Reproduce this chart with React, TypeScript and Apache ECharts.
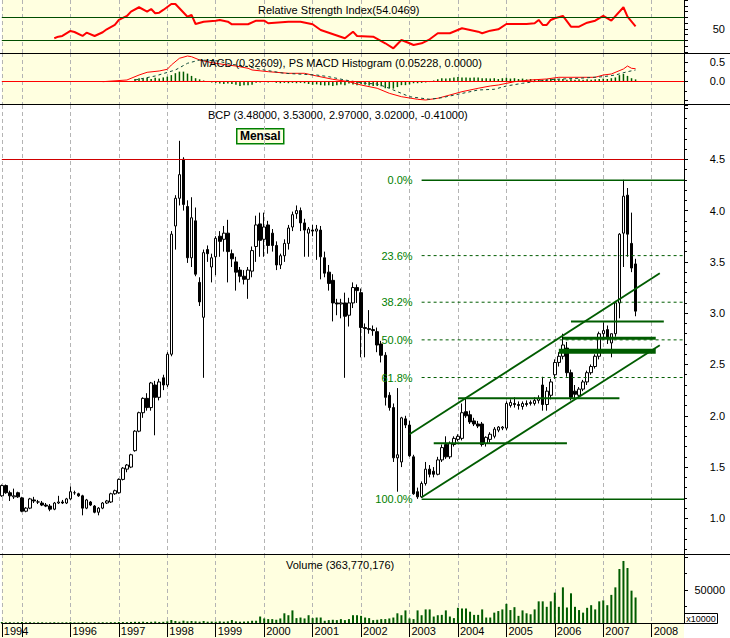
import React, { useEffect, useRef } from "react";
import * as echarts from "echarts";

// ---------- categories: monthly, Aug 1994 .. Sep 2008 ----------
const months: string[] = [];
for (let k = 0; k < 170; k++) {
  const t = 1994 * 12 + 7 + k;
  const y = Math.floor(t / 12);
  const m = (t % 12) + 1;
  months.push(`${y}-${String(m).padStart(2, "0")}`);
}

// ---------- BCP monthly candles [open, high, low, close] ----------
const ohlc: number[][] = [
  // 1994 Aug-Dec
  [1.22, 1.33, 1.21, 1.32], [1.32, 1.33, 1.24, 1.25], [1.25, 1.27, 1.17, 1.22], [1.21, 1.29, 1.19, 1.22], [1.25, 1.26, 1.2, 1.21],
  // 1995
  [1.2, 1.21, 1.06, 1.07], [1.07, 1.11, 1.06, 1.1], [1.1, 1.2, 1.09, 1.19], [1.18, 1.21, 1.15, 1.17], [1.16, 1.18, 1.14, 1.16], [1.15, 1.17, 1.12, 1.13],
  [1.13, 1.15, 1.11, 1.12], [1.12, 1.14, 1.07, 1.09], [1.09, 1.16, 1.08, 1.15], [1.15, 1.22, 1.14, 1.16], [1.16, 1.18, 1.14, 1.15], [1.15, 1.2, 1.14, 1.19],
  // 1996
  [1.19, 1.31, 1.18, 1.26], [1.25, 1.27, 1.23, 1.25], [1.24, 1.25, 1.21, 1.22], [1.22, 1.23, 1.03, 1.1], [1.1, 1.19, 1.09, 1.18], [1.16, 1.17, 1.12, 1.13],
  [1.12, 1.13, 1.05, 1.06], [1.06, 1.11, 1.03, 1.1], [1.1, 1.16, 1.09, 1.15], [1.15, 1.18, 1.14, 1.17], [1.16, 1.25, 1.15, 1.24], [1.24, 1.28, 1.23, 1.27],
  // 1997
  [1.25, 1.39, 1.24, 1.38], [1.38, 1.5, 1.37, 1.49], [1.48, 1.53, 1.45, 1.52], [1.5, 1.63, 1.49, 1.62], [1.66, 1.86, 1.65, 1.85], [1.85, 2.04, 1.84, 2.03],
  [2.03, 2.18, 1.98, 2.17], [2.17, 2.22, 2.05, 2.08], [2.08, 2.33, 2.05, 2.32], [2.3, 2.34, 1.81, 2.18], [2.18, 2.36, 2.15, 2.33], [2.37, 2.4, 2.25, 2.3],
  // 1998
  [2.3, 2.62, 2.28, 2.6], [2.6, 3.8, 2.58, 3.77], [3.85, 4.15, 3.62, 4.12], [4.12, 4.68, 4.05, 4.35], [4.5, 4.52, 4.0, 4.06], [4.04, 4.1, 3.49, 3.54],
  [3.54, 4.13, 3.45, 3.93], [3.9, 4.03, 3.36, 3.38], [3.3, 3.35, 3.07, 3.11], [2.96, 3.62, 2.37, 3.59], [3.62, 3.66, 3.5, 3.58], [3.45, 3.58, 3.3, 3.54],
  // 1999
  [3.55, 3.75, 3.37, 3.73], [3.75, 3.8, 3.55, 3.7], [3.72, 3.85, 3.6, 3.78], [3.78, 3.91, 3.3, 3.6], [3.58, 3.62, 3.45, 3.53], [3.5, 3.55, 3.22, 3.4],
  [3.42, 3.45, 3.3, 3.36], [3.36, 3.42, 3.28, 3.33], [3.33, 3.45, 3.14, 3.42], [3.41, 3.65, 3.35, 3.61], [3.65, 3.95, 3.5, 3.86], [3.87, 3.98, 3.55, 3.71],
  // 2000
  [3.72, 3.98, 3.55, 3.84], [3.86, 3.9, 3.58, 3.66], [3.78, 3.82, 3.6, 3.66], [3.66, 3.7, 3.42, 3.47], [3.47, 3.58, 3.43, 3.56], [3.56, 3.72, 3.5, 3.68],
  [3.68, 3.86, 3.62, 3.83], [3.84, 3.99, 3.8, 3.96], [3.97, 4.05, 3.92, 4.0], [4.0, 4.03, 3.8, 3.88], [3.88, 3.92, 3.55, 3.81], [3.78, 3.84, 3.55, 3.82],
  // 2001
  [3.81, 3.86, 3.75, 3.8], [3.8, 3.86, 3.52, 3.82], [3.81, 3.85, 3.33, 3.55], [3.54, 3.6, 3.35, 3.39], [3.4, 3.47, 3.22, 3.29], [3.32, 3.38, 2.92, 3.1],
  [3.1, 3.14, 2.98, 3.09], [3.09, 3.14, 2.95, 3.1], [3.1, 3.2, 2.37, 2.97], [2.98, 3.15, 2.87, 3.1], [3.1, 3.3, 3.05, 3.25], [3.25, 3.28, 3.1, 3.22],
  // 2002
  [3.2, 3.24, 2.57, 2.86], [2.86, 2.9, 2.57, 2.85], [2.85, 3.03, 2.8, 2.84], [2.84, 2.88, 2.78, 2.83], [2.82, 2.86, 2.62, 2.69], [2.7, 2.73, 2.52, 2.59],
  [2.59, 2.62, 2.1, 2.18], [2.2, 2.23, 2.05, 2.08], [2.08, 2.12, 1.55, 1.59], [1.59, 2.27, 1.26, 1.62], [1.55, 1.99, 1.5, 1.98], [1.97, 2.0, 1.88, 1.91],
  // 2003
  [1.91, 1.95, 1.6, 1.61], [1.6, 1.62, 1.23, 1.24], [1.26, 1.3, 1.19, 1.21], [1.21, 1.36, 1.2, 1.34], [1.34, 1.55, 1.32, 1.48], [1.48, 1.52, 1.4, 1.43],
  [1.46, 1.5, 1.4, 1.43], [1.43, 1.6, 1.42, 1.57], [1.57, 1.72, 1.55, 1.69], [1.72, 1.8, 1.58, 1.6], [1.6, 1.75, 1.58, 1.73], [1.72, 1.8, 1.7, 1.78],
  // 2004
  [1.77, 1.82, 1.75, 1.8], [1.78, 2.12, 1.76, 2.03], [2.04, 2.18, 1.98, 2.0], [2.01, 2.05, 1.92, 1.94], [1.95, 1.98, 1.9, 1.92], [1.92, 1.95, 1.88, 1.9],
  [1.92, 1.94, 1.7, 1.72], [1.73, 1.8, 1.7, 1.79], [1.77, 1.84, 1.74, 1.82], [1.8, 1.89, 1.78, 1.87], [1.86, 1.9, 1.84, 1.89], [1.88, 1.9, 1.86, 1.89],
  // 2005
  [1.88, 2.14, 1.86, 2.12], [2.1, 2.16, 2.08, 2.13], [2.12, 2.18, 2.08, 2.11], [2.11, 2.14, 2.06, 2.1], [2.09, 2.14, 2.06, 2.12], [2.12, 2.15, 2.09, 2.11],
  [2.12, 2.15, 2.1, 2.13], [2.12, 2.18, 2.1, 2.15], [2.15, 2.2, 2.12, 2.17], [2.3, 2.38, 2.05, 2.11], [2.11, 2.28, 2.05, 2.24], [2.2, 2.36, 2.16, 2.33],
  // 2006
  [2.4, 2.55, 2.36, 2.52], [2.52, 2.62, 2.48, 2.58], [2.58, 2.8, 2.55, 2.69], [2.66, 2.72, 2.38, 2.42], [2.42, 2.45, 2.15, 2.18], [2.24, 2.3, 2.16, 2.21],
  [2.2, 2.28, 2.18, 2.26], [2.26, 2.35, 2.24, 2.33], [2.33, 2.44, 2.3, 2.42], [2.42, 2.5, 2.4, 2.48], [2.48, 2.6, 2.46, 2.58], [2.58, 2.82, 2.55, 2.8],
  // 2007 Jan-Sep
  [2.8, 2.91, 2.74, 2.83], [2.84, 2.88, 2.7, 2.76], [2.71, 2.8, 2.57, 2.8], [2.8, 3.12, 2.77, 3.1], [3.1, 3.78, 2.95, 3.77], [3.78, 4.3, 3.45, 4.14],
  [4.15, 4.22, 3.55, 3.77], [3.68, 3.98, 3.4, 3.44], [3.48, 3.53, 2.97, 3.02],
];

// ---------- monthly volume (x10000 shares) ----------
const volume: number[] = [
  1500, 1000, 1200, 800, 1000,
  1500, 1000, 1200, 900, 1000, 1100, 800, 1000, 1200, 900, 1000, 1100,
  1300, 1000, 900, 1400, 1000, 900, 1100, 1000, 1200, 1000, 1300, 1200,
  1500, 1400, 1300, 1600, 1800, 1700, 2000, 1500, 1800, 2200, 1600, 1800,
  2500, 4500, 3000, 2000, 3500, 2500, 3000, 2500, 2000, 3000, 2000, 2200,
  2000, 2500, 2000, 2500, 4500, 2500, 2000, 2200, 2500, 3400, 3400, 9800,
  6900, 5900, 5900, 4900, 6900, 14700, 11800, 19100, 7400, 8300, 6900, 11800,
  7400, 8300, 8300, 3400, 4400, 4900, 4400, 5900, 4400, 5900, 11800, 11800,
  10800, 8300, 7400, 4400, 4900, 5900, 5900, 6900, 8300, 14700, 11800, 19100,
  6900, 5900, 19100, 11800, 20600, 20600, 9800, 11800, 12300, 19100, 9800, 7400,
  23000, 22000, 22000, 17100, 12300, 12300, 20600, 8300, 8300, 15700, 18100, 20600,
  29000, 19600, 24000, 10800, 19100, 14700, 13200, 20600, 32800, 32800, 24500, 32800,
  46000, 24500, 54000, 23500, 45000, 24500, 19600, 15700, 23000, 27000, 20600, 32800,
  34300, 27000, 42600, 54000, 81800, 94000, 83300, 49000, 38700,
];

// ---------- RSI vertices ----------
const rsiPoints: [string, number][] = [
  ["1995-09", 33.5], ["1995-10", 36.3], ["1995-11", 37.5], ["1996-01", 46.2], ["1996-02", 44.4], ["1996-04", 37.5],
  ["1996-05", 43.2], ["1996-07", 37.5], ["1996-09", 43.9], ["1996-10", 49.1], ["1996-12", 56.6], ["1997-01", 65.3],
  ["1997-03", 72.3], ["1997-04", 79.7], ["1997-06", 87.4], ["1997-08", 79.7], ["1997-09", 84.4], ["1997-10", 77.0],
  ["1997-11", 78.0], ["1997-12", 82.7], ["1998-02", 93.1], ["1998-03", 93.1], ["1998-04", 85.7], ["1998-06", 71.0],
  ["1998-07", 74.0], ["1998-08", 58.3], ["1998-10", 62.3], ["1999-01", 64.1], ["1999-02", 65.3], ["1999-04", 62.3],
  ["1999-05", 57.8], ["1999-09", 57.8], ["1999-11", 64.1], ["2000-01", 64.1], ["2000-02", 59.6], ["2000-07", 62.3],
  ["2000-10", 62.3], ["2001-01", 57.8], ["2001-03", 47.9], ["2001-05", 43.2], ["2001-09", 33.5], ["2001-11", 45.0],
  ["2001-12", 37.5], ["2002-04", 36.3], ["2002-07", 24.8], ["2002-09", 16.1], ["2002-11", 30.5], ["2003-01", 24.8],
  ["2003-02", 21.8], ["2003-04", 24.8], ["2003-06", 31.7], ["2003-08", 42.2], ["2003-11", 42.2], ["2004-02", 50.9],
  ["2004-06", 45.0], ["2004-07", 42.2], ["2004-09", 46.7], ["2004-11", 49.1], ["2005-01", 58.3], ["2005-06", 58.3],
  ["2005-08", 59.6], ["2005-09", 65.3], ["2005-10", 56.6], ["2005-11", 56.6], ["2005-12", 65.3], ["2006-01", 68.3],
  ["2006-03", 72.3], ["2006-05", 53.7], ["2006-07", 53.7], ["2006-09", 60.6], ["2006-11", 64.1], ["2007-01", 72.3],
  ["2007-03", 64.1], ["2007-06", 87.4], ["2007-07", 71.0], ["2007-09", 54.05],
];

// ---------- MACD vertices ----------
const macdPoints: [string, number][] = [
  ["1996-09", -0.01], ["1997-03", 0.034], ["1997-06", 0.163], ["1997-08", 0.233], ["1997-11", 0.267], ["1998-01", 0.311],
  ["1998-02", 0.422], ["1998-04", 0.596], ["1998-06", 0.655], ["1998-07", 0.637], ["1998-09", 0.552], ["1998-12", 0.482],
  ["1999-04", 0.422], ["1999-06", 0.396], ["1999-09", 0.337], ["1999-10", 0.293], ["2000-02", 0.249], ["2000-07", 0.207],
  ["2000-11", 0.207], ["2001-02", 0.137], ["2001-06", 0.052], ["2001-10", -0.01], ["2002-01", -0.096], ["2002-05", -0.181],
  ["2002-08", -0.311], ["2002-11", -0.399], ["2003-03", -0.466], ["2003-05", -0.484], ["2003-08", -0.44], ["2003-11", -0.355],
  ["2004-02", -0.269], ["2004-06", -0.181], ["2004-09", -0.122], ["2004-11", -0.096], ["2005-03", -0.01], ["2005-07", 0.034],
  ["2005-11", 0.06], ["2006-02", 0.104], ["2006-07", 0.104], ["2006-11", 0.104], ["2007-01", 0.163], ["2007-03", 0.189],
  ["2007-06", 0.319], ["2007-07", 0.396], ["2007-08", 0.337], ["2007-09", 0.326],
];
const signalPoints: [string, number][] = [
  ["1997-05", 0.034], ["1997-10", 0.137], ["1998-03", 0.293], ["1998-06", 0.466], ["1998-09", 0.552], ["1999-01", 0.534],
  ["1999-05", 0.44], ["1999-09", 0.378], ["2000-01", 0.293], ["2000-06", 0.207], ["2001-02", 0.163], ["2001-05", 0.119],
  ["2001-09", 0.034], ["2002-02", -0.052], ["2002-05", -0.07], ["2002-08", -0.181], ["2003-01", -0.399], ["2003-06", -0.466],
  ["2003-09", -0.425], ["2004-01", -0.337], ["2004-06", -0.225], ["2004-10", -0.207], ["2005-01", -0.122], ["2005-05", -0.052],
  ["2005-09", 0.008], ["2006-01", 0.052], ["2006-07", 0.078], ["2007-01", 0.119], ["2007-04", 0.163], ["2007-07", 0.249],
  ["2007-09", 0.293],
];
const histStart = "1997-05";
const histogram: number[] = [
  0.06, 0.08, 0.07, 0.09, 0.06, 0.09, 0.07, 0.1,
  0.12, 0.16, 0.21, 0.25, 0.25, 0.2, 0.14, 0.08, 0.05, 0.02, 0.0, -0.03,
  -0.04, -0.06, -0.07, -0.06, -0.07, -0.09, -0.12, -0.1, -0.1, -0.09, -0.04, -0.03,
  -0.02, -0.03, -0.02, -0.04, -0.05, -0.04, -0.05, -0.04, -0.05, -0.04, -0.05, -0.07,
  -0.09, -0.08, -0.1, -0.11, -0.1, -0.12, -0.1, -0.08, -0.1, -0.06, -0.08, -0.1,
  -0.07, -0.09, -0.11, -0.12, -0.12, -0.13, -0.18, -0.18, -0.19, -0.15, -0.1, -0.1,
  -0.08, -0.05, -0.05, -0.04, -0.03, -0.02, 0.02, 0.05, 0.08, 0.07, 0.08, 0.1,
  0.11, 0.1, 0.1, 0.09, 0.1, 0.1, 0.08, 0.08, 0.07, 0.08, 0.06, 0.08,
  0.09, 0.07, 0.08, 0.06, 0.07, 0.05, 0.06, 0.05, 0.06, 0.04, 0.05, 0.06,
  0.07, 0.05, 0.06, 0.04, 0.05, 0.04, 0.05, 0.04, 0.05, 0.04, 0.05, 0.06,
  0.07, 0.06, 0.08, 0.1, 0.16, 0.19, 0.14, 0.08, 0.05,
];

// ---------- drawing tools on the price panel ----------
const fibLevels = [
  { label: "0.0%", price: 4.295, dashed: false },
  { label: "23.6%", price: 3.561, dashed: true },
  { label: "38.2%", price: 3.107, dashed: true },
  { label: "50.0%", price: 2.74, dashed: true },
  { label: "61.8%", price: 2.373, dashed: true },
  { label: "100.0%", price: 1.186, dashed: false },
];
const fibFrom = "2003-04";
const fibTo = "2008-09";
const channelUpper: [string, number][] = [["2003-01", 1.82], ["2008-03", 3.39]];
const channelLower: [string, number][] = [["2003-04", 1.206], ["2008-03", 2.687]];
const supportLines = [
  { from: "2004-01", to: "2007-05", price: 2.17, width: 2 },
  { from: "2003-07", to: "2006-04", price: 1.732, width: 2 },
  { from: "2006-05", to: "2008-04", price: 2.92, width: 2 },
  { from: "2006-03", to: "2008-02", price: 2.755, width: 3 },
  { from: "2006-02", to: "2008-02", price: 2.63, width: 5 },
];

const FONT = "'Liberation Sans', Arial, sans-serif";
const YELLOW = "#ffffe0";
const DKGREEN = "#005c00";

const idx = (m: string) => months.indexOf(m);
const yearTick = (i: number, v: string) => i === 0 || v.endsWith("-01");
const yearLabel = (i: number, v: string) => i === 0 || (v.endsWith("-01") && v !== "1995-01");

const panels = [
  { top: 0, height: 53, bg: YELLOW },
  { top: 53, height: 52, bg: YELLOW },
  { top: 105, height: 449, bg: "#ffffff" },
  { top: 554, height: 69, bg: YELLOW },
];

function buildOption() {
  const txt = { fontSize: 11, color: "#000", fontFamily: FONT, fontWeight: "normal" as const };
  const yBase = (k: number) => ({
    type: "value",
    gridIndex: k,
    position: "right",
    axisLine: { show: true, lineStyle: { color: "#000", width: 1 } },
    axisTick: { show: true, length: 4, lineStyle: { color: "#000" } },
    splitLine: { show: false },
  });
  const lbl = (fmt: (v: number) => string) => ({
    ...txt,
    align: "right",
    margin: 41,
    formatter: fmt,
  });

  const series: any[] = [];
  series.push({
    type: "line",
    xAxisIndex: 0,
    yAxisIndex: 0,
    data: rsiPoints.map(([m, v]) => [idx(m), v]),
    showSymbol: false,
    lineStyle: { color: "#ff0000", width: 2 },
    z: 3,
    markLine: {
      silent: true,
      symbol: "none",
      label: { show: false },
      lineStyle: { color: "#004d00", width: 1, type: "solid" },
      data: [{ yAxis: 70 }, { yAxis: 30 }],
    },
  });
  const h0 = idx(histStart);
  series.push({
    type: "bar",
    xAxisIndex: 1,
    yAxisIndex: 1,
    data: histogram.map((v, k) => [h0 + k, v]),
    barWidth: 1.5,
    itemStyle: { color: DKGREEN },
  });
  series.push({
    type: "line",
    xAxisIndex: 1,
    yAxisIndex: 1,
    data: macdPoints.map(([m, v]) => [idx(m), v]),
    showSymbol: false,
    lineStyle: { color: "#ff0000", width: 1 },
    z: 4,
    markLine: {
      silent: true,
      symbol: "none",
      label: { show: false },
      lineStyle: { color: "#ff0000", width: 1, type: "solid" },
      data: [{ yAxis: 0 }],
    },
  });
  series.push({
    type: "line",
    xAxisIndex: 1,
    yAxisIndex: 1,
    data: signalPoints.map(([m, v]) => [idx(m), v]),
    showSymbol: false,
    lineStyle: { color: "#0f4a3a", width: 1, type: [3, 3] },
    z: 4,
  });
  series.push({
    type: "candlestick",
    xAxisIndex: 2,
    yAxisIndex: 2,
    data: ohlc.map(([o, h, l, c]) => [o, c, l, h]),
    barWidth: 3,
    itemStyle: { color: "#ffffff", color0: "#000000", borderColor: "#000000", borderColor0: "#000000", borderWidth: 1 },
    z: 2,
    markLine: {
      silent: true,
      symbol: "none",
      label: { show: false },
      lineStyle: { color: "#d00000", width: 1, type: "solid" },
      data: [{ yAxis: 4.5 }],
    },
  });
  fibLevels.forEach((f) => {
    series.push({
      type: "line",
      xAxisIndex: 2,
      yAxisIndex: 2,
      symbol: "circle",
      symbolSize: 0.01,
      showSymbol: true,
      z: 3,
      lineStyle: { color: DKGREEN, width: f.dashed ? 1 : 1.5, type: f.dashed ? [3, 3] : "solid" },
      data: [
        {
          value: [idx(fibFrom), f.price],
          label: { show: true, position: "left", distance: 9, formatter: f.label, color: "#008000", fontSize: 11, fontFamily: FONT },
        },
        { value: [idx(fibTo), f.price], label: { show: false } },
      ],
    });
  });
  [channelUpper, channelLower].forEach((ch) => {
    series.push({
      type: "line",
      xAxisIndex: 2,
      yAxisIndex: 2,
      showSymbol: false,
      z: 3,
      lineStyle: { color: DKGREEN, width: 1.8 },
      data: ch.map(([m, v]) => [idx(m), v]),
    });
  });
  supportLines.forEach((s) => {
    series.push({
      type: "line",
      xAxisIndex: 2,
      yAxisIndex: 2,
      showSymbol: false,
      z: 3,
      lineStyle: { color: DKGREEN, width: s.width },
      data: [[idx(s.from), s.price], [idx(s.to), s.price]],
    });
  });
  series.push({
    type: "bar",
    xAxisIndex: 3,
    yAxisIndex: 3,
    data: volume,
    barWidth: 2,
    itemStyle: { color: DKGREEN },
  });

  return {
    animation: false,
    backgroundColor: "#ffffff",
    textStyle: { fontFamily: FONT },
    title: [
      { text: "Relative Strength Index(54.0469)", left: 258, top: 4, padding: 0, textStyle: txt },
      { text: "MACD (0.32609), PS MACD Histogram (0.05228, 0.0000)", left: 200, top: 57, padding: 0, textStyle: txt },
      { text: "BCP (3.48000, 3.53000, 2.97000, 3.02000, -0.41000)", left: 208, top: 109, padding: 0, textStyle: txt },
      { text: "Volume (363,770,176)", left: 286, top: 559, padding: 0, textStyle: txt },
    ],
    grid: panels.map((p) => ({
      left: 1.8,
      right: 46,
      top: p.top,
      height: p.height,
      show: true,
      backgroundColor: p.bg,
      borderWidth: 0,
    })),
    xAxis: panels.map((_, k) => ({
      type: "category",
      gridIndex: k,
      data: months,
      boundaryGap: false,
      axisLine: { show: k === 3, lineStyle: { color: "#000", width: 1 } },
      axisTick: { show: k === 3, interval: yearTick, length: 14, lineStyle: { color: "#000" } },
      axisLabel: {
        show: k === 3,
        interval: yearLabel,
        formatter: (v: string) => v.slice(0, 4),
        align: "left",
        padding: [0, 0, 0, 2],
        margin: 2,
        ...txt,
      },
      splitLine: { show: true, interval: yearTick, lineStyle: { color: "#b4b4b4", width: 1, type: [4, 3] } },
    })),
    yAxis: [
      { ...yBase(0), min: 7.9, max: 100, splitNumber: 9, axisLabel: lbl((v) => (Math.abs(v - 50) < 1e-6 ? "50" : "")) },
      {
        ...yBase(1),
        min: -0.614,
        max: 0.733,
        splitNumber: 3,
        minorTick: { show: true, splitNumber: 2, length: 3, lineStyle: { color: "#000" } },
        axisLabel: lbl((v) => (Math.abs(v - 0.5) < 1e-6 ? "0.5" : Math.abs(v) < 1e-6 ? "0.0" : "")),
      },
      {
        ...yBase(2),
        min: 0.653,
        max: 5.029,
        splitNumber: 9,
        minorTick: { show: true, splitNumber: 5, length: 3, lineStyle: { color: "#000" } },
        axisLabel: lbl((v) => {
          const r = Math.round(v * 2) / 2;
          return Math.abs(v - r) < 1e-6 && v > 0.99 && v < 4.51 ? v.toFixed(1) : "";
        }),
      },
      {
        ...yBase(3),
        min: 0,
        max: 104545,
        splitNumber: 2,
        minorTick: { show: true, splitNumber: 2, length: 3, lineStyle: { color: "#000" } },
        axisLabel: lbl((v) => (Math.abs(v - 50000) < 1e-6 ? "50000" : "")),
      },
    ],
    graphic: [
      { type: "rect", z: -5, silent: true, shape: { x: 0, y: 623, width: 684, height: 15 }, style: { fill: YELLOW } },
      { type: "line", z: 50, silent: true, shape: { x1: 0, y1: 53.5, x2: 730, y2: 53.5 }, style: { stroke: "#000", lineWidth: 1 } },
      { type: "line", z: 50, silent: true, shape: { x1: 0, y1: 104.5, x2: 730, y2: 104.5 }, style: { stroke: "#000", lineWidth: 1 } },
      { type: "line", z: 50, silent: true, shape: { x1: 0, y1: 554.5, x2: 730, y2: 554.5 }, style: { stroke: "#000", lineWidth: 1 } },
      {
        type: "group",
        z: 50,
        left: 236,
        top: 128,
        children: [
          { type: "rect", shape: { x: 0, y: 0, width: 47, height: 15 }, style: { fill: YELLOW, stroke: "#008000", lineWidth: 1.5 } },
          {
            type: "text",
            x: 23.5,
            y: 7.5,
            style: { text: "Mensal", fill: "#000", font: `bold 12px ${FONT}`, textAlign: "center", textVerticalAlign: "middle" },
          },
        ],
      },
      {
        type: "group",
        z: 50,
        left: 684,
        top: 613,
        children: [
          { type: "rect", shape: { x: 0, y: 0, width: 33, height: 10 }, style: { fill: "#fff", stroke: "#000", lineWidth: 1 } },
          {
            type: "text",
            x: 16.5,
            y: 5,
            style: { text: "x10000", fill: "#000", font: `9px ${FONT}`, textAlign: "center", textVerticalAlign: "middle" },
          },
        ],
      },
    ],
    series,
  };
}

export default function App() {
  const ref = useRef<HTMLDivElement | null>(null);
  useEffect(() => {
    document.body.style.margin = "0";
    if (!ref.current) return;
    const chart = echarts.init(ref.current, undefined, { renderer: "svg" });
    chart.setOption(buildOption() as any);
    return () => chart.dispose();
  }, []);
  return <div ref={ref} style={{ width: 730, height: 638, position: "absolute", left: 0, top: 0 }} />;
}
